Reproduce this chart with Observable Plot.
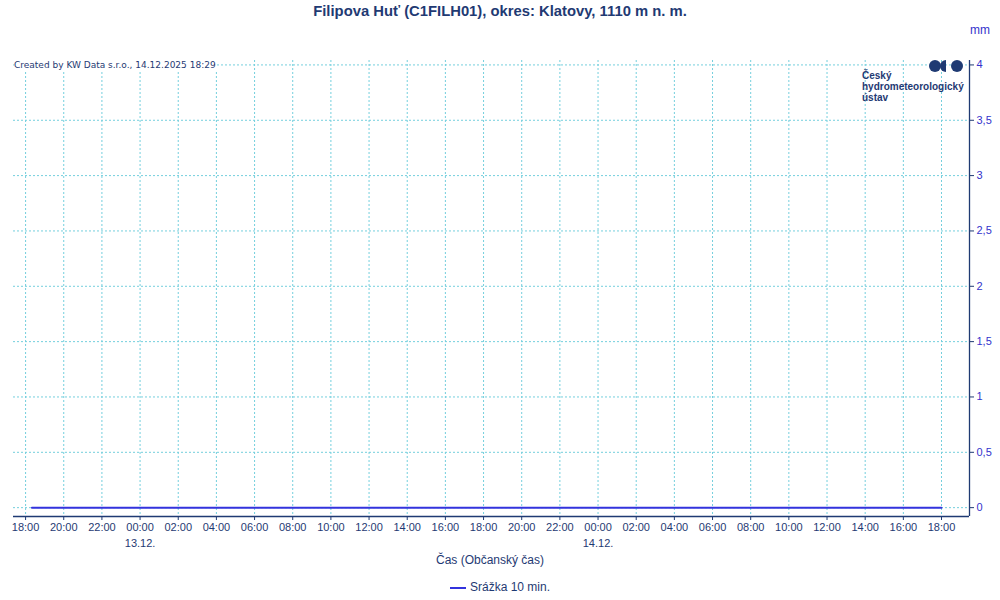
<!DOCTYPE html>
<html>
<head>
<meta charset="utf-8">
<script src="https://cdn.jsdelivr.net/npm/d3@7"></script>
<script src="https://cdn.jsdelivr.net/npm/@observablehq/plot@0.6"></script>
<style>
  body { margin: 0; background: #fff; font-family: "Liberation Sans", Arial, sans-serif; }
  #wrap { position: relative; width: 1000px; height: 600px; overflow: hidden; }
  #wrap svg { position: absolute; left: 0; top: 0; }
  .abs { position: absolute; white-space: nowrap; }
</style>
</head>
<body>
<div id="wrap">
  <div class="abs" id="title" style="left:0;width:1000px;top:3px;text-align:center;font-weight:bold;font-size:14.8px;color:#1f3a73;">Filipova Huť (C1FILH01), okres: Klatovy, 1110 m n. m.</div>
  <div class="abs" style="left:970px;top:23px;font-size:12px;color:#3333cc;">mm</div>
  <div class="abs" style="left:14px;top:60px;font-family:'DejaVu Sans',sans-serif;font-size:9px;color:#1f3a73;background:#fff;padding-right:1px;">Created by KW Data s.r.o., 14.12.2025 18:29</div>
  <div class="abs" style="left:862px;top:70px;font-size:10px;line-height:11px;font-weight:bold;color:#1f3a73;">Český<br>hydrometeorologický<br>ústav</div>
  <div class="abs" style="left:929px;top:60px;width:12px;height:12px;border-radius:6px;background:#1f3a73;"></div>
  <div class="abs" style="left:940px;top:60px;width:6px;height:12px;border-radius:6px 0 0 6px;background:#1f3a73;"></div>
  <div class="abs" style="left:951px;top:60px;width:12px;height:12px;border-radius:6px;background:#1f3a73;"></div>
  <div class="abs" style="left:0;width:980px;top:553px;text-align:center;font-size:12px;color:#1f3a73;">Čas (Občanský čas)</div>
  <div class="abs" style="left:450px;top:587px;width:16px;height:2px;background:#3333dd;"></div>
  <div class="abs" style="left:470px;top:580px;font-size:12px;color:#1f3a73;">Srážka 10 min.</div>
</div>
<script>
// ---- data ----
const times = [
  "2025-12-12T18:20Z","2025-12-12T20:00Z","2025-12-12T22:00Z","2025-12-13T00:00Z",
  "2025-12-13T02:00Z","2025-12-13T04:00Z","2025-12-13T06:00Z","2025-12-13T08:00Z",
  "2025-12-13T10:00Z","2025-12-13T12:00Z","2025-12-13T14:00Z","2025-12-13T16:00Z",
  "2025-12-13T18:00Z","2025-12-13T20:00Z","2025-12-13T22:00Z","2025-12-14T00:00Z",
  "2025-12-14T02:00Z","2025-12-14T04:00Z","2025-12-14T06:00Z","2025-12-14T08:00Z",
  "2025-12-14T10:00Z","2025-12-14T12:00Z","2025-12-14T14:00Z","2025-12-14T16:00Z",
  "2025-12-14T18:00Z"
];
const precip = [0,0,0,0,0,0,0,0,0,0,0,0,0,0,0,0,0,0,0,0,0,0,0,0,0];
const xTickLabels = ["18:00","20:00","22:00","00:00","02:00","04:00","06:00","08:00","10:00","12:00","14:00","16:00","18:00","20:00","22:00","00:00","02:00","04:00","06:00","08:00","10:00","12:00","14:00","16:00","18:00"];
const xTicks = [
  "2025-12-12T18:00Z","2025-12-12T20:00Z","2025-12-12T22:00Z","2025-12-13T00:00Z",
  "2025-12-13T02:00Z","2025-12-13T04:00Z","2025-12-13T06:00Z","2025-12-13T08:00Z",
  "2025-12-13T10:00Z","2025-12-13T12:00Z","2025-12-13T14:00Z","2025-12-13T16:00Z",
  "2025-12-13T18:00Z","2025-12-13T20:00Z","2025-12-13T22:00Z","2025-12-14T00:00Z",
  "2025-12-14T02:00Z","2025-12-14T04:00Z","2025-12-14T06:00Z","2025-12-14T08:00Z",
  "2025-12-14T10:00Z","2025-12-14T12:00Z","2025-12-14T14:00Z","2025-12-14T16:00Z",
  "2025-12-14T18:00Z"
];
const dayTicks = ["2025-12-13T00:00Z", "2025-12-14T00:00Z"];
const dayLabels = ["13.12.", "14.12."];
const yTicks = [0, 0.5, 1, 1.5, 2, 2.5, 3, 3.5, 4];
const yTickLabels = ["0", "0,5", "1", "1,5", "2", "2,5", "3", "3,5", "4"];
const xDomain = ["2025-12-12T17:22Z", "2025-12-14T19:28Z"];
const yDomain = [-0.08, 4.04];

// ---- build ----
const data = times.map((t, i) => ({t: new Date(t), v: precip[i]}));
const xt = xTicks.map(d => new Date(d));
const dt = dayTicks.map(d => new Date(d));
const xd = xDomain.map(d => new Date(d));
const xLab = new Map(xt.map((d, i) => [+d, xTickLabels[i]]));
const dLab = new Map(dt.map((d, i) => [+d, dayLabels[i]]));
const yLab = new Map(yTicks.map((d, i) => [d, yTickLabels[i]]));

const navy = "#1f3a73";
const gridColor = "#74cfdd";

const chart = Plot.plot({
  width: 1000,
  height: 600,
  marginLeft: 13,
  marginRight: 31,
  marginTop: 60,
  marginBottom: 84,
  style: {fontFamily: "Liberation Sans, Arial, sans-serif", fontSize: "11px", background: "transparent"},
  x: {type: "utc", domain: xd},
  y: {domain: yDomain},
  marks: [
    Plot.gridX(xt, {stroke: gridColor, strokeOpacity: 1, strokeDasharray: "2,2"}),
    Plot.gridY(yTicks, {stroke: gridColor, strokeOpacity: 1, strokeDasharray: "2,2"}),
    Plot.ruleY([yDomain[0]], {stroke: navy, strokeWidth: 1.3}),
    Plot.ruleX([xd[1]], {stroke: navy, strokeWidth: 1.3}),
    Plot.axisX(xt, {anchor: "bottom", tickSize: 4, tickPadding: 3, tickFormat: d => xLab.get(+d), stroke: navy, fill: navy, label: null, fontSize: 11}),
    Plot.axisX(dt, {anchor: "bottom", tickSize: 0, tickPadding: 23, tickFormat: d => dLab.get(+d), fill: navy, label: null, fontSize: 11}),
    Plot.axisY(yTicks, {anchor: "right", tickSize: 4, tickPadding: 3, tickFormat: d => yLab.get(d), stroke: navy, fill: "#3333cc", label: null, fontSize: 11}),
    Plot.lineY(data, {x: "t", y: "v", stroke: "#3333dd", strokeWidth: 2})
  ]
});
document.getElementById("wrap").prepend(chart);
</script>
</body>
</html>
